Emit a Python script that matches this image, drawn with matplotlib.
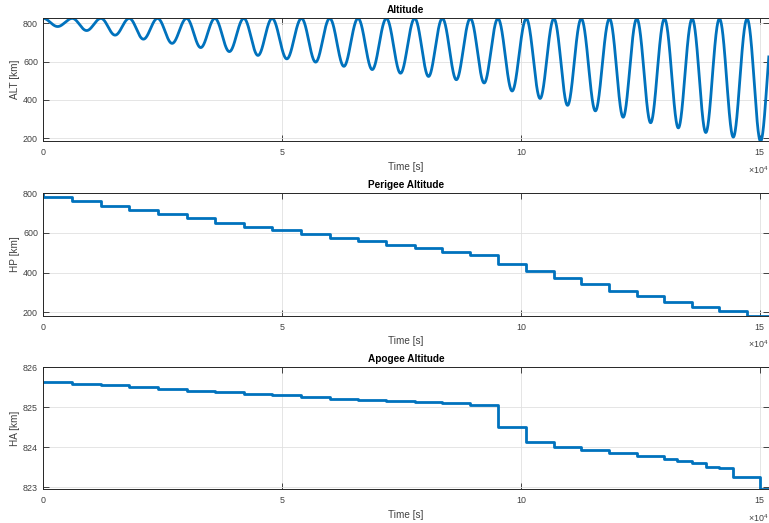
import numpy as np
import matplotlib
matplotlib.use("Agg")
import matplotlib.pyplot as plt
from matplotlib.transforms import offset_copy

# ---------------------------------------------------------------- data
EARTH_RADIUS = 6378.137  # km

# times of successive apogee passages [s]
apogee_times = [6130, 12130, 18050, 23980, 30050, 35970, 42030, 47950,
                54100, 60010, 65930, 71870, 77790, 83580, 89440, 95210,
                101150, 106920, 112650, 118560, 124270, 130070, 135860,
                141570, 147360]
next_apogee_time = 153000
end_time = 151900

# perigee altitude: initial value, then one value per orbit [km]
hp_initial = 800.0
hp_orbit = [783, 762, 738, 717, 695, 673, 652, 632, 614, 597, 575, 558,
            539, 522, 505, 488, 446, 407, 371, 342, 309, 280, 253, 229,
            205, 183]

# apogee altitude: initial value, then level changes [s] -> [km]
ha_initial = 826.0
ha_change_times = [0, 6130, 12130, 18050, 23980, 30050, 35970, 42030,
                   47950, 54100, 60010, 65930, 71870, 77790, 83580, 89440,
                   95210, 101150, 106920, 112650, 118560, 124270, 130070,
                   132780, 135860, 138780, 141570, 144340, 150000]
ha_levels = [825.63, 825.58, 825.55, 825.50, 825.46, 825.42, 825.38,
             825.34, 825.30, 825.26, 825.22, 825.18, 825.15, 825.13,
             825.10, 825.07, 824.52, 824.13, 824.00, 823.93, 823.85,
             823.78, 823.71, 823.66, 823.60, 823.51, 823.48, 823.27,
             822.95]

x_ticks = [0, 50000, 100000, 150000]
x_tick_labels = ["0", "5", "10", "15"]
alt_ticks = [200, 400, 600, 800]
hp_ticks = [200, 400, 600, 800]
ha_ticks = [823, 824, 825, 826]

# ---------------------------------------------------------------- model
def ha_at(t):
    idx = np.searchsorted(ha_change_times, t, side="right") - 1
    return ha_levels[idx]


def kepler_altitude(h_apo, h_per, mean_anom):
    a = EARTH_RADIUS + 0.5 * (h_apo + h_per)
    e = (h_apo - h_per) / (2.0 * a)
    E = mean_anom.copy()
    for _ in range(10):
        E = E - (E - e * np.sin(E) - mean_anom) / (1.0 - e * np.cos(E))
    return a * (1.0 - e * np.cos(E)) - EARTH_RADIUS


apo_t = np.array([0] + apogee_times + [next_apogee_time], dtype=float)
apo_h = [ha_initial] + [ha_at(t) for t in apogee_times] + [ha_levels[-1]]

t = np.linspace(0, end_time, 9000)
alt = np.full_like(t, np.nan)
for k, hp in enumerate(hp_orbit):
    t0, t2 = apo_t[k], apo_t[k + 1]
    t1 = 0.5 * (t0 + t2)
    m1 = (t >= t0) & (t < t1)
    m2 = (t >= t1) & (t <= t2)
    frac1 = (t[m1] - t0) / (t1 - t0)
    frac2 = (t[m2] - t1) / (t2 - t1)
    alt[m1] = kepler_altitude(apo_h[k], hp, np.pi + np.pi * frac1)
    alt[m2] = kepler_altitude(apo_h[k + 1], hp, np.pi * frac2)

hp_t = [0, 0] + apogee_times + [end_time]
hp_v = [hp_initial] + hp_orbit + [hp_orbit[-1]]
ha_t = ha_change_times + [end_time]
ha_v = ha_levels + [ha_levels[-1]]

# ---------------------------------------------------------------- style
plt.rcParams["font.family"] = ["Liberation Sans", "DejaVu Sans"]
plt.rcParams["mathtext.default"] = "regular"

W, H = 769, 523
DPI = 100
fig = plt.figure(figsize=(W / DPI, H / DPI), dpi=DPI)

LINE = "#0072BD"
AXC = "#262626"
GRIDC = "#e0e0e0"

left_px, right_px = 43.0, 768.8
boxes = [(18.3, 141.3), (193.3, 315.7), (367.3, 489.3)]

panels = [
    ("Altitude", "ALT [km]", alt_ticks),
    ("Perigee Altitude", "HP [km]", hp_ticks),
    ("Apogee Altitude", "HA [km]", ha_ticks),
]

axes = []
for (top, bot), (title, ylabel, yt) in zip(boxes, panels):
    ax = fig.add_axes([left_px / W, 1 - bot / H,
                       (right_px - left_px) / W, (bot - top) / H])
    ax.set_xlim(0, end_time)
    ax.set_xticks(x_ticks)
    ax.set_xticklabels(x_tick_labels)
    ax.set_yticks(yt)
    ax.tick_params(which="both", direction="in", top=True, right=True,
                   length=4.3, width=0.6, color=AXC, labelcolor="#404040",
                   labelsize=6.4)
    ax.tick_params(axis="x", pad=5.0)
    ax.tick_params(axis="y", pad=3.6)
    for s in ax.spines.values():
        s.set_color(AXC)
        s.set_linewidth(0.7)
    ax.grid(True, color=GRIDC, lw=0.6)
    ax.set_axisbelow(True)
    ax.set_title(title, fontsize=7.2, fontweight="bold", color="black",
                 pad=3.8)
    ax.set_ylabel(ylabel, fontsize=7.2, color="#404040")
    ax.yaxis.set_label_coords(
        0, 0.5, transform=offset_copy(ax.transAxes, fig=fig,
                                      x=-28 * 72 / DPI, y=0, units="points"))
    ax.yaxis.label.set_va("center")
    ax.set_xlabel("Time [s]", fontsize=7.2, color="#404040")
    ax.xaxis.set_label_coords(
        0.5, 0, transform=offset_copy(ax.transAxes, fig=fig,
                                      x=0, y=-25.5 * 72 / DPI, units="points"))
    ax.xaxis.label.set_va("center")
    ax.text((748 - left_px) / (right_px - left_px), 0, r"$\times10^{4}$",
            transform=offset_copy(ax.transAxes, fig=fig, x=0,
                                  y=-28.5 * 72 / DPI, units="points"),
            ha="left", va="center", fontsize=6.4, color="#404040",
            clip_on=False)
    axes.append(ax)

ax1, ax2, ax3 = axes

ax1.plot(t, alt, color=LINE, lw=2.0, solid_joinstyle="round")
ax1.set_ylim(np.nanmin(alt), np.nanmax(alt))

ax2.plot(hp_t, hp_v, color=LINE, lw=2.0, drawstyle="steps-post")
ax2.set_ylim(min(hp_v), max(hp_v))

ax3.plot(ha_t, ha_v, color=LINE, lw=2.0, drawstyle="steps-post")
ax3.set_ylim(min(ha_v), ha_initial)

fig.savefig("out.png", dpi=DPI)
